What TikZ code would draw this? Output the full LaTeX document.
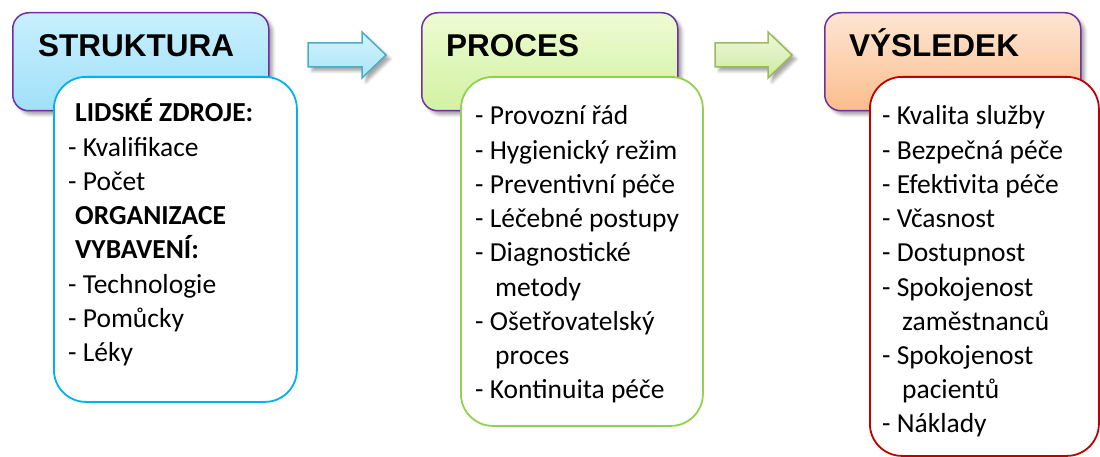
\documentclass[tikz,border=0pt]{standalone}
\usepackage{fontspec}
\setmainfont{Carlito}
\newfontfamily\hdfont{Liberation Sans}
\usetikzlibrary{shadows.blur}

\definecolor{hdborder}{HTML}{7030A0}
\definecolor{bluetop}{HTML}{C8EFFD}
\definecolor{bluebot}{HTML}{A0E0F9}
\definecolor{greentop}{HTML}{EDFBD3}
\definecolor{greenbot}{HTML}{D2F2A2}
\definecolor{orangetop}{HTML}{FDE6D3}
\definecolor{orangebot}{HTML}{FBBD8C}
\definecolor{blueline}{HTML}{00B0F0}
\definecolor{greenline}{HTML}{92D050}
\definecolor{redline}{HTML}{C00000}
\definecolor{arrblue}{HTML}{4BACC6}
\definecolor{arrbluetop}{HTML}{D4F3FD}
\definecolor{arrbluebot}{HTML}{A9E5F7}
\definecolor{arrgreen}{HTML}{9BBB59}
\definecolor{arrgreentop}{HTML}{EEF8DC}
\definecolor{arrgreenbot}{HTML}{CDE9A0}

\begin{document}
\begin{tikzpicture}[x=1pt,y=-1pt,
  softshadow/.style={blur shadow={shadow xshift=4pt, shadow yshift=-4pt,
      shadow blur radius=3pt, shadow opacity=35}},
  header/.style={draw=hdborder, line width=1.5pt, rounded corners=16pt,
      minimum width=256pt, minimum height=98pt, anchor=north west,
      inner sep=0pt, softshadow},
  title/.style={font=\hdfont\bfseries\fontsize{31.5}{36}\selectfont,
      inner sep=0pt, anchor=base west},
  panel/.style={draw, fill=white, line width=1.8pt, rounded corners=32pt,
      anchor=north west, inner sep=0pt},
  item/.style={font=\fontsize{27.5}{33}\selectfont, inner sep=0pt,
      anchor=base west},
  blockarrow/.style={line width=1.5pt, line join=miter, softshadow}
]
\useasboundingbox (0,0) rectangle (1100,457);

% header boxes
\node[header, top color=bluetop, bottom color=bluebot] (hs) at (12,12) {};
\node[header, top color=greentop, bottom color=greenbot] (hp) at (421,12) {};
\node[header, top color=orangetop, bottom color=orangebot] (hv) at (824,12) {};

\node[title] (ts) at (38,57) {STRUKTURA};
\node[title] (tp) at (446,57) {PROCES};
\node[title] (tv) at (849,57) {VÝSLEDEK};

% block arrows between the headers
\coordinate (a1) at (308,55);
\coordinate (a2) at (715,55);
\draw[blockarrow, draw=arrblue, top color=arrbluetop, bottom color=arrbluebot]
  (a1) ++(0,-12) -- ++(54,0) -- ++(0,-11) -- ++(24,23) -- ++(-24,23)
  -- ++(0,-11) -- ++(-54,0) -- cycle;
\draw[blockarrow, draw=arrgreen, top color=arrgreentop, bottom color=arrgreenbot]
  (a2) ++(0,-12) -- ++(53,0) -- ++(0,-11) -- ++(24,23) -- ++(-24,23)
  -- ++(0,-11) -- ++(-53,0) -- cycle;

% white content panels
\node[panel, draw=blueline, minimum width=243pt, minimum height=325pt] (ps) at (53,76) {};
\node[panel, draw=greenline, minimum width=242pt, minimum height=349pt] (pp) at (460,76) {};
\node[panel, draw=redline, minimum width=229pt, minimum height=379pt] (pv) at (869,76) {};

% STRUKTURA items
\foreach [count=\i] \t/\dx in {
    {\textbf{LIDSKÉ ZDROJE:}}/7,
    {- Kvalifikace}/0,
    {- Počet}/0,
    {\textbf{ORGANIZACE}}/7,
    {\textbf{VYBAVENÍ:}}/7,
    {- Technologie}/0,
    {- Pomůcky}/0,
    {- Léky}/0}
  \node[item] (s\i) at ({68+\dx},{87.8+34.2*\i}) {\t};

% PROCES items
\foreach [count=\i] \t/\dx in {
    {- Provozní řád}/0,
    {- Hygienický režim}/0,
    {- Preventivní péče}/0,
    {- Léčebné postupy}/0,
    {- Diagnostické}/0,
    {metody}/20,
    {- Ošetřovatelský}/0,
    {proces}/20,
    {- Kontinuita péče}/0}
  \node[item] (p\i) at ({475+\dx},{90.8+34.2*\i}) {\t};

% VÝSLEDEK items
\foreach [count=\i] \t/\dx in {
    {- Kvalita služby}/0,
    {- Bezpečná péče}/0,
    {- Efektivita péče}/0,
    {- Včasnost}/0,
    {- Dostupnost}/0,
    {- Spokojenost}/0,
    {zaměstnanců}/20,
    {- Spokojenost}/0,
    {pacientů}/20,
    {- Náklady}/0}
  \node[item] (v\i) at ({882+\dx},{90.8+34.2*\i}) {\t};
\end{tikzpicture}
\end{document}
